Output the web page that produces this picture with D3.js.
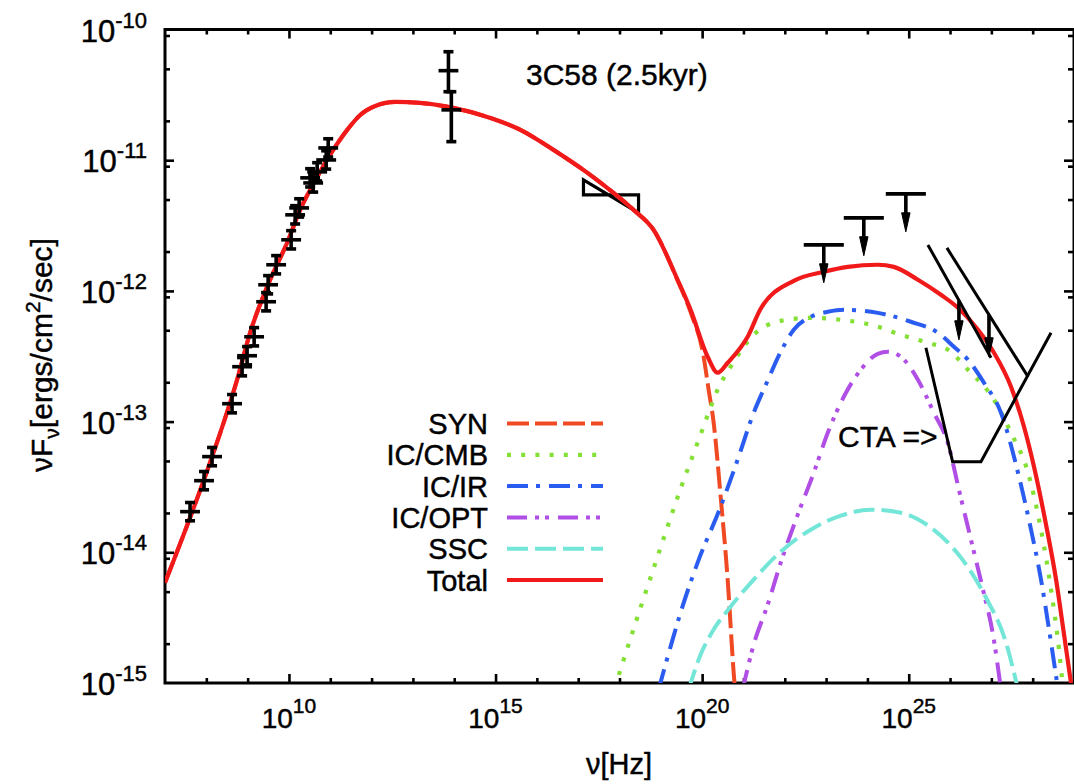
<!DOCTYPE html>
<html>
<head>
<meta charset="utf-8">
<script src="https://cdn.jsdelivr.net/npm/d3@7"></script>
<style>
  html, body { margin: 0; padding: 0; background: #fff; }
  svg text { font-family: "Liberation Sans", Arial, Helvetica, sans-serif; fill: #000;
             stroke: #000; stroke-width: 0.45px; paint-order: stroke; }
</style>
</head>
<body>
<svg id="chart" width="1074" height="784"></svg>
<script>
// All values are log10(nu / Hz) and log10(nuFnu / erg cm^-2 s^-1).

// Model components
const totalLogNu = [7.000, 7.678, 8.090, 8.745, 9.060, 9.544, 9.956, 10.271, 10.683, 11.071, 11.410, 11.725, 12.089, 12.573, 13.179, 13.979, 14.802, 15.602, 16.402, 17.225, 17.855, 18.340, 18.825, 19.406, 19.721, 20.133, 20.376, 20.618, 21.102, 21.417, 22.217, 22.944, 23.526, 24.252, 24.640, 25.222, 25.779, 26.191, 26.676, 27.063, 27.475, 27.790, 28.032, 28.323, 28.566, 28.759, 28.929];
const totalLogF  = [-14.232, -13.674, -13.314, -12.680, -12.320, -11.915, -11.632, -11.380, -11.128, -10.921, -10.768, -10.654, -10.585, -10.554, -10.562, -10.600, -10.669, -10.768, -10.921, -11.097, -11.250, -11.380, -11.533, -11.915, -12.145, -12.504, -12.626, -12.550, -12.351, -12.137, -11.923, -11.854, -11.816, -11.800, -11.816, -11.915, -12.030, -12.129, -12.297, -12.473, -12.733, -13.039, -13.345, -13.788, -14.209, -14.629, -15.004];

const synLogNu = [7.000, 7.678, 8.090, 8.745, 9.060, 9.544, 9.956, 10.271, 10.683, 11.071, 11.410, 11.725, 12.089, 12.573, 13.179, 13.979, 14.802, 15.602, 16.402, 17.225, 17.855, 18.340, 18.825, 19.406, 19.721, 20.036, 20.157, 20.279, 20.448, 20.618, 20.763, 20.860];
const synLogF  = [-14.232, -13.674, -13.314, -12.680, -12.320, -11.915, -11.632, -11.380, -11.128, -10.921, -10.768, -10.654, -10.585, -10.554, -10.562, -10.600, -10.669, -10.768, -10.921, -11.097, -11.250, -11.380, -11.533, -11.920, -12.163, -12.504, -12.756, -13.008, -13.574, -14.209, -14.920, -15.279];

const cmbLogNu = [17.880, 18.025, 18.510, 18.994, 19.479, 19.891, 20.157, 20.376, 20.691, 21.248, 21.902, 22.629, 23.356, 24.083, 24.810, 25.464, 25.949, 26.433, 27.063, 27.475, 27.887, 28.202, 28.444, 28.638, 28.759];
const cmbLogF  = [-15.042, -14.897, -14.423, -13.964, -13.513, -13.161, -12.932, -12.756, -12.580, -12.336, -12.229, -12.206, -12.221, -12.259, -12.336, -12.397, -12.450, -12.603, -12.833, -13.085, -13.391, -13.827, -14.285, -14.744, -15.126];

const icIrLogNu = [18.946, 19.285, 19.479, 19.891, 20.448, 20.860, 21.248, 21.563, 21.902, 22.217, 22.629, 23.041, 23.429, 24.252, 25.052, 25.706, 26.094, 26.433, 26.821, 27.233, 27.645, 27.960, 28.202, 28.396, 28.614];
const icIrLogF  = [-15.050, -14.668, -14.461, -14.079, -13.651, -13.291, -12.932, -12.703, -12.466, -12.297, -12.198, -12.160, -12.145, -12.168, -12.236, -12.320, -12.427, -12.527, -12.703, -12.932, -13.391, -13.827, -14.209, -14.591, -15.050];

const icOptLogNu = [20.981, 21.248, 21.587, 21.902, 22.314, 22.702, 23.041, 23.429, 23.841, 24.252, 24.495, 24.810, 25.222, 25.609, 25.949, 26.215, 26.506, 26.797, 27.039, 27.233];
const icOptLogF  = [-15.050, -14.706, -14.400, -14.079, -13.712, -13.391, -13.085, -12.810, -12.603, -12.481, -12.466, -12.504, -12.680, -12.932, -13.166, -13.521, -13.903, -14.285, -14.629, -15.050];

const sscLogNu = [19.673, 19.964, 20.279, 20.691, 21.248, 21.902, 22.629, 23.356, 24.083, 24.810, 25.537, 26.264, 26.869, 27.354, 27.645];
const sscLogF  = [-15.050, -14.782, -14.591, -14.415, -14.209, -13.995, -13.827, -13.720, -13.674, -13.697, -13.811, -14.041, -14.346, -14.691, -15.050];

// Radio measurements
const radioLogNu = [7.606, 7.945, 8.139, 8.623, 8.866, 8.987, 9.157, 9.447, 9.496, 9.690, 10.053, 10.150, 10.247, 10.513, 10.586, 10.683, 10.901, 10.950];
const radioLogF  = [-13.689, -13.452, -13.268, -12.863, -12.580, -12.496, -12.351, -12.083, -11.953, -11.800, -11.609, -11.418, -11.365, -11.135, -11.174, -11.089, -10.998, -10.906];
const radioNuErrDex = 0.24;
const radioFErrDex = 0.07;

// Infrared measurements
const irDataLogNu  = [13.86, 13.93];
const irDataLogF   = [-10.315, -10.615];
const irDataLogFLo = [-10.476, -10.858];
const irDataLogFHi = [-10.170, -10.476];
const irNuErrDex = 0.24;

// X-ray power-law bowtie
const xrayLogNu      = [17.128, 18.461];
const xraySteepLogF  = [-11.151, -11.403];
const xrayFlatLogF   = [-11.265, -11.265];

// Fermi upper limits
const fermiLogNu = [22.944, 23.913, 24.930];
const fermiLogF  = [-11.648, -11.441, -11.258];
const fermiBinDex = 0.485;
const fermiArrowDex = 0.29;

// TeV power-law upper limits
const tevLogNu = [[25.464, 26.991], [25.924, 27.887]];
const tevLogF  = [[-11.648, -12.512], [-11.671, -12.657]];
const tevArrowLogNu = [26.215, 26.942];
const tevArrowTipLogF = [-12.374, -12.504];

// CTA sensitivity
const ctaLogNu = [25.416, 26.062, 26.748, 28.444];
const ctaLogF  = [-12.435, -13.307, -13.307, -12.320];

// Axis ticks
const xMajorExp = [10, 15, 20, 25];
const xMinorExp = [8, 9, 11, 12, 13, 14, 16, 17, 18, 19, 21, 22, 23, 24, 26, 27, 28];
const yLabelExp = [-10, -11, -12, -13, -14, -15];
const yMinorMult = [2, 5, 9];

const legendLabels = ["SYN", "IC/CMB", "IC/IR", "IC/OPT", "SSC", "Total"];

// ---------------------------------------------------------------
const svg = d3.select("#chart");
const x = d3.scaleLog().domain([1e7, 1e29]).range([165, 1074]);
const y = d3.scaleLog().domain([1e-15, 1e-10]).range([683, 29.5]);
const P = (ln, lf) => [Math.pow(10, ln), Math.pow(10, lf)];
const px = ln => x(Math.pow(10, ln));
const py = lf => y(Math.pow(10, lf));

svg.append("defs").append("clipPath").attr("id", "plot")
  .append("rect").attr("x", 165).attr("y", 29.5).attr("width", 909).attr("height", 653.5);

// Ticks (inward, on all four sides)
function tickSet(axis, vals, size, tr) {
  const g = svg.append("g").attr("transform", tr)
    .call(axis.tickValues(vals).tickSize(size).tickSizeOuter(0).tickFormat(""));
  g.select(".domain").remove();
  g.selectAll("line").attr("stroke", "#000").attr("stroke-width", 2.6);
}
const xMaj = xMajorExp.map(e => Math.pow(10, e));
const xMin = xMinorExp.map(e => Math.pow(10, e));
const yMaj = [-14, -13, -12, -11].map(e => Math.pow(10, e));
const yMin = [-15, -14, -13, -12, -11].flatMap(e => yMinorMult.map(m => m * Math.pow(10, e)));
tickSet(d3.axisBottom(x), xMaj, -9, "translate(0,683)");
tickSet(d3.axisBottom(x), xMin, -5, "translate(0,683)");
tickSet(d3.axisTop(x), xMaj, -9, "translate(0,29.5)");
tickSet(d3.axisTop(x), xMin, -5, "translate(0,29.5)");
tickSet(d3.axisLeft(y), yMaj, -9, "translate(165,0)");
tickSet(d3.axisLeft(y), yMin, -5, "translate(165,0)");
tickSet(d3.axisRight(y), yMaj, -9, "translate(1073,0)");
tickSet(d3.axisRight(y), yMin, -5, "translate(1073,0)");

// Frame
svg.append("rect").attr("x", 165).attr("y", 29.5).attr("width", 909).attr("height", 653.5)
  .attr("fill", "none").attr("stroke", "#000").attr("stroke-width", 3);

// Tick labels
xMajorExp.forEach(e => {
  const t = svg.append("text").attr("x", x(Math.pow(10, e))).attr("y", 728)
    .attr("text-anchor", "middle").attr("font-size", 28);
  t.append("tspan").text("10");
  t.append("tspan").attr("dy", -15).attr("font-size", 21).text(String(e));
});
yLabelExp.forEach(e => {
  const t = svg.append("text").attr("x", 147).attr("y", y(Math.pow(10, e)) + 12)
    .attr("text-anchor", "end").attr("font-size", 31);
  t.append("tspan").text("10");
  t.append("tspan").attr("dy", -14).attr("font-size", 22).text(String(e));
});

// Axis titles
const xt = svg.append("text").attr("x", 619).attr("y", 774).attr("text-anchor", "middle").attr("font-size", 29);
xt.text("ν[Hz]");
const yt = svg.append("text").attr("transform", "translate(52,355) rotate(-90)")
  .attr("text-anchor", "middle").attr("font-size", 30);
yt.append("tspan").text("νF");
yt.append("tspan").attr("dy", 7).attr("font-size", 21).text("ν");
yt.append("tspan").attr("dy", -7).text("[ergs/cm");
yt.append("tspan").attr("dy", -12).attr("font-size", 21).text("2");
yt.append("tspan").attr("dy", 12).text("/sec]");

// Title
svg.append("text").attr("x", 526).attr("y", 85).attr("font-size", 30).text("3C58 (2.5kyr)");

const black = "#000";

// X-ray bowtie (drawn below the model curves)
const bow = [P(xrayLogNu[0], xraySteepLogF[0]), P(xrayLogNu[1], xraySteepLogF[1]),
             P(xrayLogNu[1], xrayFlatLogF[1]), P(xrayLogNu[0], xrayFlatLogF[0])];
svg.append("path")
  .attr("d", d3.line().x(d => x(d[0])).y(d => y(d[1]))(bow) + "Z")
  .attr("fill", "none").attr("stroke", black).attr("stroke-width", 3.2).attr("stroke-linejoin", "miter");

// Model curves
const series = [
  { nu: synLogNu, f: synLogF, color: "#f04a24", dash: "22,6", w: 4 },
  { nu: cmbLogNu, f: cmbLogF, color: "#84e034", dash: "4,10.2", w: 4.2 },
  { nu: icIrLogNu, f: icIrLogF, color: "#2a5cf0", dash: "21,8,4,9", w: 4 },
  { nu: icOptLogNu, f: icOptLogF, color: "#b04ee6", dash: "20,8,4,6,4,9", w: 4 },
  { nu: sscLogNu, f: sscLogF, color: "#74e6d8", dash: "21,7", w: 4 },
  { nu: totalLogNu, f: totalLogF, color: "#f01a1a", dash: null, w: 4.2 }
];
const line = d3.line().x(d => x(d[0])).y(d => y(d[1])).curve(d3.curveMonotoneX);
const curves = svg.append("g").attr("clip-path", "url(#plot)");
series.forEach(s => {
  const pts = s.nu.map((n, i) => P(n, s.f[i]));
  curves.append("path").attr("d", line(pts))
    .attr("fill", "none").attr("stroke", s.color).attr("stroke-width", s.w)
    .attr("stroke-dasharray", s.dash).attr("stroke-linejoin", "round");
});

// Legend
legendLabels.forEach((lab, i) => {
  const ly = 423.5 + i * 31.3;
  const s = series[i];
  svg.append("text").attr("x", 488).attr("y", ly + 10.5).attr("text-anchor", "end")
    .attr("font-size", 29).text(lab);
  svg.append("line").attr("x1", 507).attr("x2", 603).attr("y1", ly).attr("y2", ly)
    .attr("stroke", s.color).attr("stroke-width", s.w).attr("stroke-dasharray", s.dash);
});

const data = svg.append("g").attr("stroke", black).attr("stroke-width", 3.6).attr("fill", "none");

function seg(x1, y1, x2, y2) {
  data.append("line").attr("x1", x1).attr("y1", y1).attr("x2", x2).attr("y2", y2);
}
function arrowDown(xp, y0, tip) {
  seg(xp, y0, xp, tip - 12);
  svg.append("path").attr("d", `M${xp - 4.2},${tip - 19}L${xp + 4.2},${tip - 19}L${xp},${tip}Z`)
    .attr("fill", black).attr("stroke", black).attr("stroke-width", 1);
}

// Radio points with error bars
radioLogNu.forEach((n, i) => {
  const f = radioLogF[i];
  const cx = px(n), cy = py(f);
  const yh = py(f + radioFErrDex), yl = py(f - radioFErrDex);
  seg(px(n - radioNuErrDex), cy, px(n + radioNuErrDex), cy);
  seg(cx, yh, cx, yl);
  seg(cx - 5, yh, cx + 5, yh);
  seg(cx - 5, yl, cx + 5, yl);
});

// Infrared points
irDataLogNu.forEach((n, i) => {
  const cx = px(n), cy = py(irDataLogF[i]);
  const yh = py(irDataLogFHi[i]), yl = py(irDataLogFLo[i]);
  seg(px(n - irNuErrDex), cy, px(n + irNuErrDex), cy);
  seg(cx, yh, cx, yl);
  seg(cx - 5, yh, cx + 5, yh);
  seg(cx - 5, yl, cx + 5, yl);
});

// Fermi upper limits
fermiLogNu.forEach((n, i) => {
  const f = fermiLogF[i];
  const yb = py(f);
  seg(px(n - fermiBinDex), yb, px(n + fermiBinDex), yb);
  arrowDown(px(n), yb, py(f - fermiArrowDex));
});

// TeV power-law limits with arrows
tevLogNu.forEach((nn, i) => {
  const ff = tevLogF[i];
  data.append("line").attr("x1", px(nn[0])).attr("y1", py(ff[0])).attr("x2", px(nn[1])).attr("y2", py(ff[1]))
    .attr("stroke-width", 3);
  const an = tevArrowLogNu[i];
  const t = (an - nn[0]) / (nn[1] - nn[0]);
  const onLine = ff[0] + t * (ff[1] - ff[0]);
  arrowDown(px(an), py(onLine), py(tevArrowTipLogF[i]));
});

// CTA sensitivity curve
svg.append("path")
  .attr("d", d3.line().x(d => px(d[0])).y(d => py(d[1]))(ctaLogNu.map((n, i) => [n, ctaLogF[i]])))
  .attr("fill", "none").attr("stroke", black).attr("stroke-width", 3).attr("stroke-linejoin", "miter");
svg.append("text").attr("x", 838).attr("y", 447).attr("font-size", 30).text("CTA =>");
</script>
</body>
</html>
